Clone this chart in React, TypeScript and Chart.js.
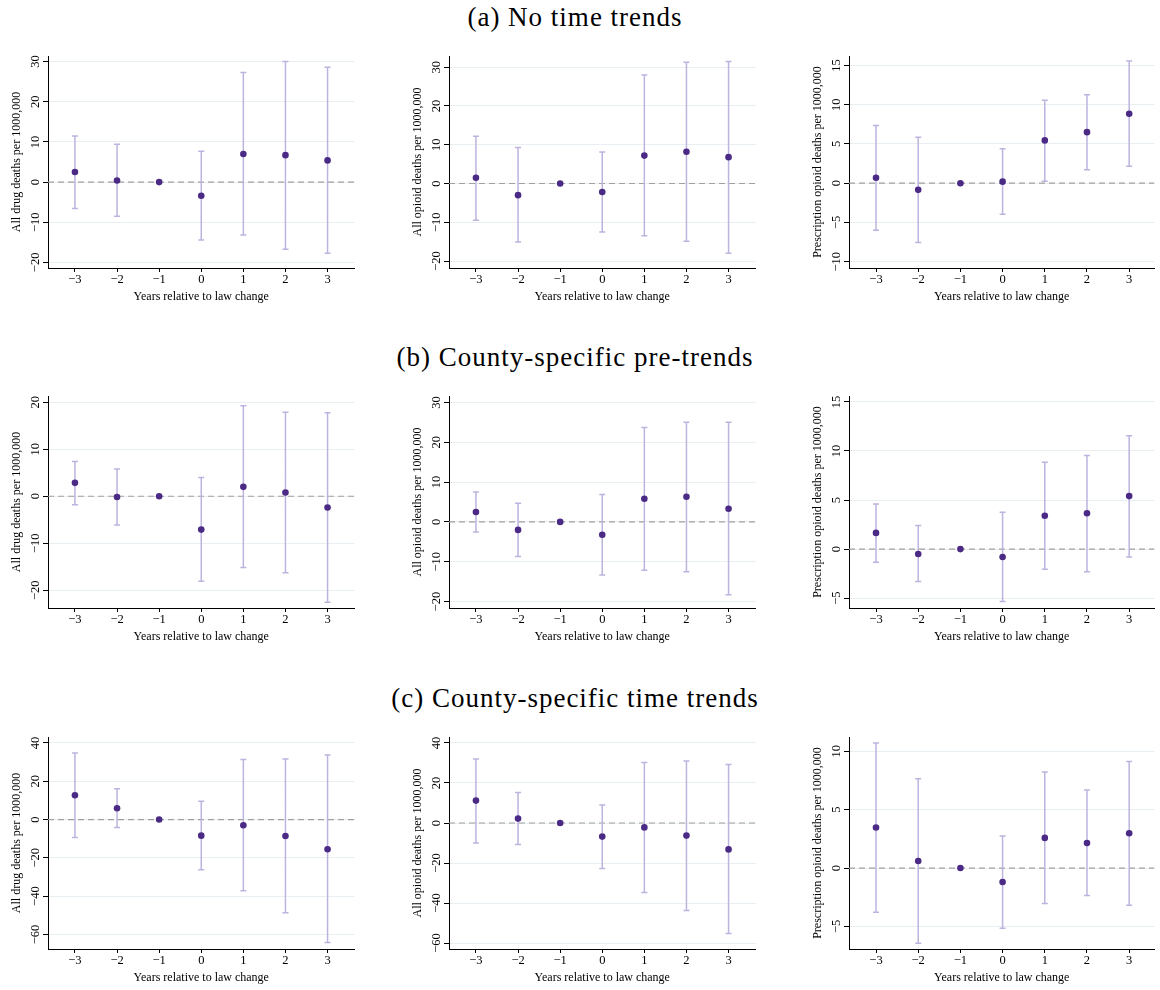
import React, { useEffect, useRef } from 'react';
import { Chart, registerables } from 'chart.js';

Chart.register(...registerables);

// ---------- data ----------
const years = [-3, -2, -1, 0, 1, 2, 3];

// (a) No time trends
const aDrugEst = [2.5, 0.4, 0, -3.4, 7.0, 6.7, 5.4];
const aDrugLo = [-6.6, -8.5, 0, -14.4, -13.2, -16.7, -17.7];
const aDrugHi = [11.5, 9.4, 0, 7.7, 27.3, 30.0, 28.6];

const aOpioidEst = [1.5, -3.0, 0, -2.2, 7.2, 8.2, 6.8];
const aOpioidLo = [-9.5, -15.1, 0, -12.5, -13.5, -14.9, -18.0];
const aOpioidHi = [12.2, 9.3, 0, 8.1, 28.0, 31.3, 31.5];

const aRxEst = [0.7, -0.85, 0, 0.2, 5.45, 6.5, 8.85];
const aRxLo = [-6.0, -7.55, 0, -3.95, 0.25, 1.7, 2.15];
const aRxHi = [7.35, 5.85, 0, 4.4, 10.55, 11.25, 15.55];

// (b) County-specific pre-trends
const bDrugEst = [2.85, -0.15, 0, -7.1, 2.0, 0.8, -2.4];
const bDrugLo = [-1.8, -6.1, 0, -18.1, -15.2, -16.3, -22.6];
const bDrugHi = [7.4, 5.8, 0, 4.0, 19.3, 17.9, 17.8];

const bOpioidEst = [2.5, -2.0, 0, -3.2, 5.8, 6.3, 3.3];
const bOpioidLo = [-2.5, -8.7, 0, -13.3, -12.1, -12.5, -18.3];
const bOpioidHi = [7.5, 4.7, 0, 6.9, 23.7, 25.0, 25.0];

const bRxEst = [1.65, -0.5, 0, -0.8, 3.4, 3.65, 5.4];
const bRxLo = [-1.35, -3.3, 0, -5.35, -2.05, -2.3, -0.8];
const bRxHi = [4.6, 2.4, 0, 3.75, 8.85, 9.55, 11.55];

// (c) County-specific time trends
const cDrugEst = [12.7, 5.9, 0, -8.4, -3.0, -8.6, -15.5];
const cDrugLo = [-9.4, -4.2, 0, -26.2, -37.2, -48.7, -64.2];
const cDrugHi = [34.7, 16.1, 0, 9.6, 31.4, 31.6, 33.7];

const cOpioidEst = [11.2, 2.2, 0, -6.8, -2.2, -6.3, -13.2];
const cOpioidLo = [-10.0, -10.7, 0, -22.7, -34.8, -43.7, -55.3];
const cOpioidHi = [32.0, 15.2, 0, 9.0, 30.2, 31.0, 29.3];

const cRxEst = [3.47, 0.6, 0, -1.2, 2.58, 2.15, 2.98];
const cRxLo = [-3.78, -6.45, 0, -5.16, -3.04, -2.35, -3.18];
const cRxHi = [10.72, 7.65, 0, 2.75, 8.22, 6.68, 9.14];

// tick labels
const ticksDrugA = [-20, -10, 0, 10, 20, 30];
const ticksOpioidA = [-20, -10, 0, 10, 20, 30];
const ticksRxA = [-10, -5, 0, 5, 10, 15];
const ticksDrugB = [-20, -10, 0, 10, 20];
const ticksOpioidB = [-20, -10, 0, 10, 20, 30];
const ticksRxB = [-5, 0, 5, 10, 15];
const ticksDrugC = [-60, -40, -20, 0, 20, 40];
const ticksOpioidC = [-60, -40, -20, 0, 20, 40];
const ticksRxC = [-5, 0, 5, 10];

// axis ranges
const yRangeDrugA = [-21.4, 31.4];
const yRangeOpioidA = [-21.8, 32.9];
const yRangeRxA = [-10.8, 16.2];
const yRangeDrugB = [-23.8, 21.35];
const yRangeOpioidB = [-21.6, 31.6];
const yRangeRxB = [-6.0, 15.6];
const yRangeDrugC = [-67.6, 43.1];
const yRangeOpioidC = [-63.0, 43.0];
const yRangeRxC = [-6.94, 11.23];
const xRangeWide = [-3.64, 3.64];
const xRangeRight = [-3.64, 3.6];

const sectionTitles = [
  '(a) No time trends',
  '(b) County-specific pre-trends',
  '(c) County-specific time trends',
];
const yTitles = [
  'All drug deaths per 1000,000',
  'All opioid deaths per 1000,000',
  'Prescription opioid deaths per 1000,000',
];
const xTitle = 'Years relative to law change';

// ---------- style ----------
const FONT = "'Liberation Serif', 'Times New Roman', serif";
const POINT = '#4b2a85';
const CI = '#bdb3df';
const GRID = '#e7eff2';
const ZERO = '#a0a0a0';

const colAxisX = [48, 449, 849];
const colPlotW = [312, 312, 311];
const rowPlotTop = [56, 396, 737];
const PLOT_H = 212;
const LEFT_W = 48;
const TOP_PAD = 10;
const BOTTOM_H = 36;

const fmt = (v: number) => (v < 0 ? '\u2212' + Math.abs(v) : String(v));

const rotatedYTicks = {
  id: 'rotatedYTicks',
  afterDraw(chart: any) {
    const s = chart.scales.y;
    const ctx = chart.ctx;
    ctx.save();
    ctx.font = `12.5px ${FONT}`;
    ctx.fillStyle = '#000';
    ctx.textAlign = 'center';
    ctx.textBaseline = 'middle';
    for (const t of s.ticks) {
      const y = s.getPixelForValue(t.value);
      ctx.save();
      ctx.translate(chart.chartArea.left - 12, y);
      ctx.rotate(-Math.PI / 2);
      ctx.fillText(fmt(t.value), 0, 0);
      ctx.restore();
    }
    ctx.restore();
  },
};

type PanelProps = {
  est: number[];
  lo: number[];
  hi: number[];
  yTicks: number[];
  yRange: number[];
  xRange: number[];
  yTitle: string;
  row: number;
  col: number;
};

function Panel({ est, lo, hi, yTicks, yRange, xRange, yTitle, row, col }: PanelProps) {
  const ref = useRef<HTMLCanvasElement>(null);
  const width = LEFT_W + colPlotW[col];
  const height = TOP_PAD + PLOT_H + BOTTOM_H;

  useEffect(() => {
    if (!ref.current) return;
    const ciData: any[] = [];
    years.forEach((x, i) => {
      if (hi[i] > lo[i]) {
        ciData.push({ x, y: lo[i] }, { x, y: hi[i] }, { x, y: null });
      }
    });
    const chart = new Chart(ref.current, {
      type: 'scatter',
      data: {
        datasets: [
          {
            data: years.map((x, i) => ({ x, y: est[i] })),
            pointRadius: 3.3,
            pointBackgroundColor: POINT,
            pointBorderColor: POINT,
            pointBorderWidth: 0,
            showLine: false,
            order: 0,
          },
          {
            data: ciData,
            showLine: true,
            spanGaps: false,
            borderColor: CI,
            borderWidth: 1.5,
            pointStyle: 'line',
            pointRadius: 3,
            pointBorderColor: CI,
            pointBorderWidth: 1.5,
            order: 1,
          },
          {
            data: [
              { x: xRange[0], y: 0 },
              { x: xRange[1], y: 0 },
            ],
            showLine: true,
            borderColor: ZERO,
            borderWidth: 1.2,
            borderDash: [6, 4],
            pointRadius: 0,
            order: 2,
          },
        ] as any,
      },
      options: {
        animation: false,
        responsive: false,
        events: [],
        layout: { padding: { top: TOP_PAD, left: 0, right: 0, bottom: 0 } },
        plugins: { legend: { display: false }, tooltip: { enabled: false } },
        scales: {
          x: {
            type: 'linear',
            min: xRange[0],
            max: xRange[1],
            afterBuildTicks: (s: any) => {
              s.ticks = years.map((v) => ({ value: v }));
            },
            afterFit: (s: any) => {
              s.height = BOTTOM_H;
            },
            grid: {
              drawOnChartArea: false,
              drawTicks: true,
              tickLength: 4,
              tickColor: '#000',
              tickWidth: 1,
            },
            border: { display: true, color: '#000', width: 1 },
            ticks: {
              font: { family: FONT, size: 12.5 },
              color: '#000',
              padding: 0,
              maxRotation: 0,
              autoSkip: false,
              callback: (v: any) => fmt(Number(v)),
            },
            title: {
              display: true,
              text: xTitle,
              font: { family: FONT, size: 12 },
              color: '#000',
              padding: { top: 0, bottom: 0 },
            },
          },
          y: {
            type: 'linear',
            min: yRange[0],
            max: yRange[1],
            afterBuildTicks: (s: any) => {
              s.ticks = yTicks.map((v) => ({ value: v }));
            },
            afterFit: (s: any) => {
              s.width = LEFT_W;
            },
            grid: {
              color: GRID,
              lineWidth: 1,
              drawTicks: true,
              tickLength: 5,
              tickColor: '#000',
              tickWidth: 1,
            },
            border: { display: true, color: '#000', width: 1 },
            ticks: { display: false },
            title: {
              display: true,
              text: yTitle,
              font: { family: FONT, size: 12 },
              color: '#000',
              padding: { top: 10, bottom: 0 },
            },
          },
        },
      } as any,
      plugins: [rotatedYTicks],
    });
    return () => chart.destroy();
  }, []);

  return (
    <canvas
      ref={ref}
      width={width}
      height={height}
      style={{
        position: 'absolute',
        left: colAxisX[col] - LEFT_W,
        top: rowPlotTop[row] - TOP_PAD,
        width,
        height,
        display: 'block',
      }}
    />
  );
}

const panels = [
  { est: aDrugEst, lo: aDrugLo, hi: aDrugHi, yTicks: ticksDrugA, yRange: yRangeDrugA, xRange: xRangeWide, row: 0, col: 0 },
  { est: aOpioidEst, lo: aOpioidLo, hi: aOpioidHi, yTicks: ticksOpioidA, yRange: yRangeOpioidA, xRange: xRangeWide, row: 0, col: 1 },
  { est: aRxEst, lo: aRxLo, hi: aRxHi, yTicks: ticksRxA, yRange: yRangeRxA, xRange: xRangeRight, row: 0, col: 2 },
  { est: bDrugEst, lo: bDrugLo, hi: bDrugHi, yTicks: ticksDrugB, yRange: yRangeDrugB, xRange: xRangeWide, row: 1, col: 0 },
  { est: bOpioidEst, lo: bOpioidLo, hi: bOpioidHi, yTicks: ticksOpioidB, yRange: yRangeOpioidB, xRange: xRangeWide, row: 1, col: 1 },
  { est: bRxEst, lo: bRxLo, hi: bRxHi, yTicks: ticksRxB, yRange: yRangeRxB, xRange: xRangeRight, row: 1, col: 2 },
  { est: cDrugEst, lo: cDrugLo, hi: cDrugHi, yTicks: ticksDrugC, yRange: yRangeDrugC, xRange: xRangeWide, row: 2, col: 0 },
  { est: cOpioidEst, lo: cOpioidLo, hi: cOpioidHi, yTicks: ticksOpioidC, yRange: yRangeOpioidC, xRange: xRangeWide, row: 2, col: 1 },
  { est: cRxEst, lo: cRxLo, hi: cRxHi, yTicks: ticksRxC, yRange: yRangeRxC, xRange: xRangeRight, row: 2, col: 2 },
];

const titleBaselines = [27, 367, 708];

export default function App() {
  return (
    <div
      style={{
        position: 'absolute',
        left: 0,
        top: 0,
        width: 1160,
        height: 990,
        overflow: 'hidden',
        background: '#fff',
      }}
    >
      {sectionTitles.map((t, i) => (
        <div
          key={t}
          style={{
            position: 'absolute',
            left: 0,
            width: 1150,
            top: titleBaselines[i] - 23,
            textAlign: 'center',
            fontFamily: FONT,
            fontSize: 27,
            lineHeight: '27px',
            letterSpacing: '1px',
            color: '#000',
            whiteSpace: 'nowrap',
          }}
        >
          {t}
        </div>
      ))}
      {panels.map((p, i) => (
        <Panel key={i} {...p} yTitle={yTitles[p.col]} />
      ))}
    </div>
  );
}
